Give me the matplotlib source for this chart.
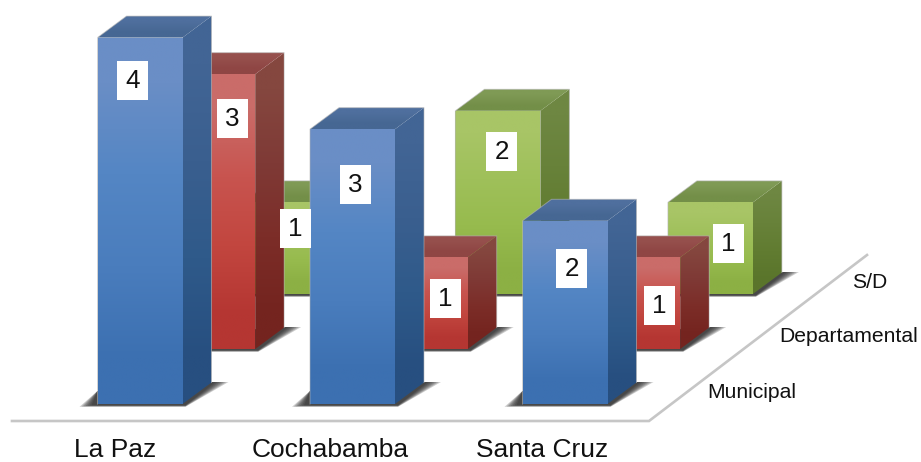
import numpy as np
import matplotlib
matplotlib.use("Agg")
import matplotlib.pyplot as plt
from matplotlib.colors import to_rgb
from matplotlib.patches import Polygon, Rectangle

# ---- data ----
categories = ["La Paz", "Cochabamba", "Santa Cruz"]
series_names = ["Municipal", "Departamental", "S/D"]
municipal = [4, 3, 2]
departamental = [3, 1, 1]
sin_dato = [1, 2, 1]

# ---- styles ----
plt.rcParams["font.family"] = ["Liberation Sans", "DejaVu Sans"]
PX_X, PX_Y = 212.5, 91.6          # pixels per category / per unit of value
BAR_W = 85 / PX_X
DEPTH_X, DEPTH_Y = 29 / PX_X, 21.5 / PX_Y
ROW_X, ROW_Y = 72.7 / PX_X, 55 / PX_Y

styles = [
    dict(front=["#6a8ec6", "#5486c4", "#4a7dbd", "#3c70b1"],
         side=["#426595", "#3a5f8f", "#2f5a8a", "#274f80"],
         top=["#4f6f9e", "#466793"]),
    dict(front=["#ca6c69", "#c8544f", "#c2463f", "#b53632"],
         side=["#85473f", "#7f3a36", "#7c2d28", "#74241f"],
         top=["#96504d", "#8f4644"]),
    dict(front=["#a8c566", "#9fc05a", "#97bb4e", "#8cb044"],
         side=["#6e8742", "#68823a", "#617c31", "#5a752b"],
         top=["#7f9a55", "#738f48"]),
]
values = [municipal, departamental, sin_dato]

fig = plt.figure(figsize=(9.21, 4.62), dpi=100, facecolor="white")
ax = fig.add_axes([0, 0, 1, 1])
XLIM = (-140 / PX_X, 781 / PX_X)
YLIM = (-58 / PX_Y, 404 / PX_Y)
ax.axis("off")


def grad_poly(pts, stops, z):
    pts = np.array(pts)
    patch = Polygon(pts, closed=True, fc="none", ec="none", zorder=z)
    ax.add_patch(patch)
    arr = np.array([to_rgb(c) for c in stops])[:, None, :]
    im = ax.imshow(arr, extent=(pts[:, 0].min(), pts[:, 0].max(),
                                pts[:, 1].min(), pts[:, 1].max()),
                   origin="upper", aspect="auto", interpolation="bilinear",
                   zorder=z)
    im.set_clip_path(patch)


def shadow(x0, x1, base, z):
    for k in range(7):
        g = 1 - k / 7
        pts = [(x0 - (4 + 14 * g) / PX_X, base - (1 + 1.8 * g) / PX_Y),
               (x1 + 3 / PX_X, base - (1 + 1.8 * g) / PX_Y),
               (x1 + DEPTH_X + (2 + 15 * g) / PX_X, base + DEPTH_Y + 0.5 / PX_Y),
               (x1 + DEPTH_X, base + DEPTH_Y + 0.5 / PX_Y),
               (x0, base + 13 / PX_Y)]
        ax.add_patch(Polygon(pts, closed=True, fc="#222222", ec="none",
                             alpha=0.22, zorder=z))


def bar(i, row, value, st, z):
    x0 = i - BAR_W / 2 + row * ROW_X
    x1 = x0 + BAR_W
    base = row * ROW_Y
    y1 = base + value
    shadow(x0, x1, base, z)
    grad_poly([(x0, base), (x1, base), (x1, y1), (x0, y1)], st["front"], z + 1)
    grad_poly([(x1, base), (x1 + DEPTH_X, base + DEPTH_Y),
               (x1 + DEPTH_X, y1 + DEPTH_Y), (x1, y1)], st["side"], z + 1)
    grad_poly([(x0, y1), (x1, y1), (x1 + DEPTH_X, y1 + DEPTH_Y),
               (x0 + DEPTH_X, y1 + DEPTH_Y)], st["top"], z + 1)
    outline = [(x0, base), (x0, y1), (x0 + DEPTH_X, y1 + DEPTH_Y),
               (x1 + DEPTH_X, y1 + DEPTH_Y), (x1 + DEPTH_X, base + DEPTH_Y)]
    ax.plot(*zip(*outline), color="#b5b5b5", lw=0.7, alpha=0.6, zorder=z + 2)


# floor edge
floor_x = [-128 / PX_X, 509 / PX_X, 727 / PX_X]
floor_y = [-17 / PX_Y, -17 / PX_Y, 149 / PX_Y]
ax.plot(floor_x, floor_y, color="#c6c6c6", lw=1.9, solid_joinstyle="miter", zorder=1)

# bars, back to front
z = 2
for row in (2, 1, 0):
    for i, v in enumerate(values[row]):
        bar(i, row, v, styles[row], z)
        z += 3

# value labels: offset from the centre of the front face's top edge, in pixels
label_offsets = [
    [(-7.5, 43), (3, 55.5), (6.5, 47.5)],
    [(20, 44.5), (20.5, 41), (22, 48)],
    [(10, 26.5), (3.6, 40.5), (18, 41.5)],
]
BOX_W, BOX_H = 31, 39
for row in range(3):
    for i, v in enumerate(values[row]):
        ox, oy = label_offsets[row][i]
        cx = i + row * ROW_X + ox / PX_X
        cy = row * ROW_Y + v - oy / PX_Y
        ax.add_patch(Rectangle((cx - BOX_W / 2 / PX_X, cy - BOX_H / 2 / PX_Y),
                               BOX_W / PX_X, BOX_H / PX_Y, fc="white", ec="none",
                               zorder=500))
        ax.text(cx, cy - 0.5 / PX_Y, str(v), ha="center", va="center",
                fontsize=18.7, color="#111111", zorder=501)

# category labels
cat_offsets = [-25, -22.5, -23]
for i, name in enumerate(categories):
    ax.text(i + cat_offsets[i] / PX_X, -46 / PX_Y, name, ha="center", va="center",
            fontsize=19, color="#111111", zorder=501)

# series labels
ser_pos = [(752, 392), (849, 337), (870, 282)]
for name, (px, py) in zip(series_names, ser_pos):
    ax.text((px - 140) / PX_X, (404 - py) / PX_Y, name, ha="center", va="center",
            fontsize=15.2, color="#111111", zorder=501)

ax.set_xlim(*XLIM)
ax.set_ylim(*YLIM)
fig.savefig("out.png", dpi=100, facecolor="white")
